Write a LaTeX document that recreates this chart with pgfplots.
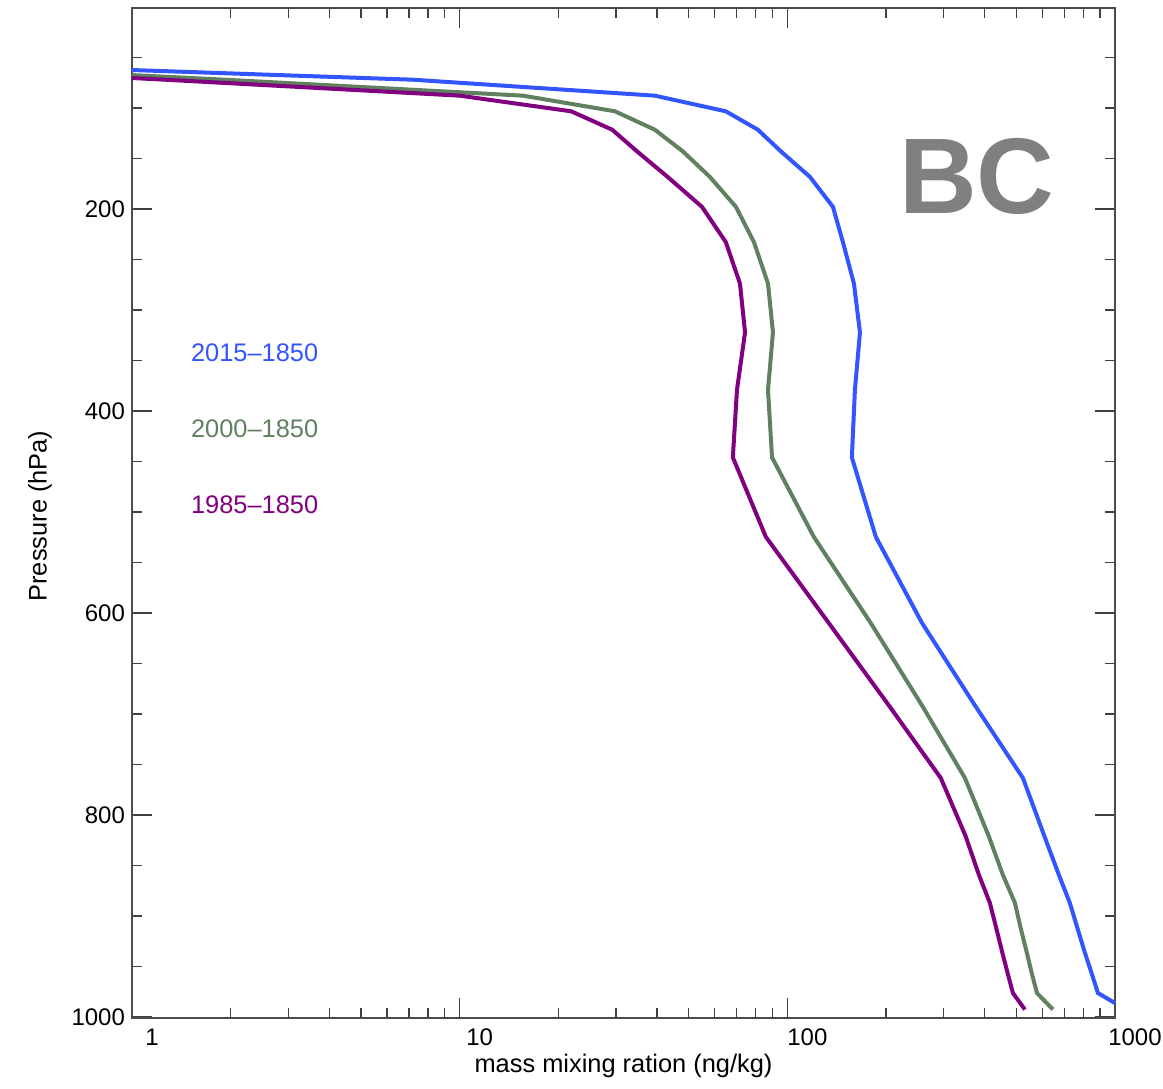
\documentclass[border=0pt]{standalone}
\usepackage{fontspec}
\setmainfont{Liberation Sans}
\usepackage{pgfplots}
\pgfplotsset{compat=1.18}
\definecolor{cblue}{RGB}{51,85,255}
\definecolor{cgreen}{RGB}{96,128,96}
\definecolor{cpurple}{RGB}{128,0,128}
\definecolor{bcgray}{RGB}{128,128,128}
\begin{document}
\begin{tikzpicture}
\begin{axis}[
  xmode=log, scale only axis, width=491.5pt, height=505pt,
  xmin=1, xmax=1000, ymin=1, ymax=1001, y dir=reverse,
  xtick={1,10,100,1000}, xticklabels={1,10,100,1000},
  minor xtick={2,3,4,5,6,7,8,9,20,30,40,50,60,70,80,90,200,300,400,500,600,700,800,900},
  ytick={200,400,600,800,1000},
  minor ytick={50,100,...,950},
  major tick length=10pt, minor tick length=5pt,
  tick style={black!75, line width=0.7pt},
  axis line style={black!70, line width=0.8pt},
  ticklabel style={font=\fontsize{12}{14}\selectfont},
  xticklabel style={xshift=10pt, yshift=-2pt},
  /pgf/number format/assume math mode=true,
  /pgf/number format/1000 sep={},
  xlabel={mass mixing ration (ng/kg)},
  ylabel={Pressure (hPa)},
  every axis x label/.style={at={(axis description cs:0.5,0)}, anchor=center, yshift=-24pt, font=\fontsize{12.7}{15}\selectfont},
  every axis y label/.style={at={(axis description cs:-0.0936,0.497)}, rotate=90, anchor=center, font=\fontsize{12.7}{15}\selectfont},
  clip=true,
]
% 2015-1850
\addplot[cblue, line width=2pt] coordinates {
(0.2,54.6) (7.20,72.0) (39.4,87.8) (64.9,103.3) (81.3,121.5) (95.6,143.0)
(117.2,168.2) (137.8,197.9) (147.8,232.8) (159.7,273.9) (166.6,322.2)
(160.8,379.1) (157.4,446.0) (186.3,524.7) (257.5,609.8) (373.6,691.4)
(523.6,763.4) (608.8,820.9) (674.5,859.5) (728,887.0) (769,912.6)
(809,936.2) (850,957.5) (887,976.3) (1080,992.6)
};
% 2000-1850
\addplot[cgreen, line width=2pt] coordinates {
(0.16,54.6) (1.92,72.0) (15.6,87.8) (29.8,103.3) (39.4,121.5) (48.0,143.0)
(58.0,168.2) (69.7,197.9) (79.1,232.8) (87.3,273.9) (90.4,322.2)
(87.3,379.1) (89.8,446.0) (120.5,524.7) (179.6,609.8) (257.5,691.4)
(348.4,763.4) (411.8,820.9) (455,859.5) (495,887.0) (516,912.6)
(538,936.2) (558,957.5) (578,976.3) (646.5,992.6)
};
% 1985-1850
\addplot[cpurple, line width=2pt] coordinates {
(0.115,54.6) (1.26,72.0) (10.0,87.8) (21.9,103.3) (29.2,121.5) (34.8,143.0)
(43.1,168.2) (54.9,197.9) (64.9,232.8) (71.7,273.9) (74.3,322.2)
(70.2,379.1) (68.2,446.0) (86.0,524.7) (133.7,609.8) (204,691.4)
(294,763.4) (350,820.9) (384.6,859.5) (415,887.0) (434.6,912.6)
(453,936.2) (471,957.5) (488,976.3) (531,992.6)
};
\node[anchor=west, inner sep=0, text=cblue, font=\fontsize{12.7}{15}\selectfont] at (axis cs:1.51,342.6) {2015–1850};
\node[anchor=west, inner sep=0, text=cgreen, font=\fontsize{12.7}{15}\selectfont] at (axis cs:1.51,417.8) {2000–1850};
\node[anchor=west, inner sep=0, text=cpurple, font=\fontsize{12.7}{15}\selectfont] at (axis cs:1.51,493) {1985–1850};
\node[anchor=base west, inner sep=0, text=bcgray, font=\fontsize{53.8}{60}\selectfont\bfseries] at (axis cs:219,204) {BC};
\end{axis}
\pgfresetboundingbox
\path[use as bounding box] ([shift={(-66pt,-35.5pt)}]current axis.south west) rectangle ([shift={(24pt,4pt)}]current axis.north east);
\end{tikzpicture}
\end{document}
